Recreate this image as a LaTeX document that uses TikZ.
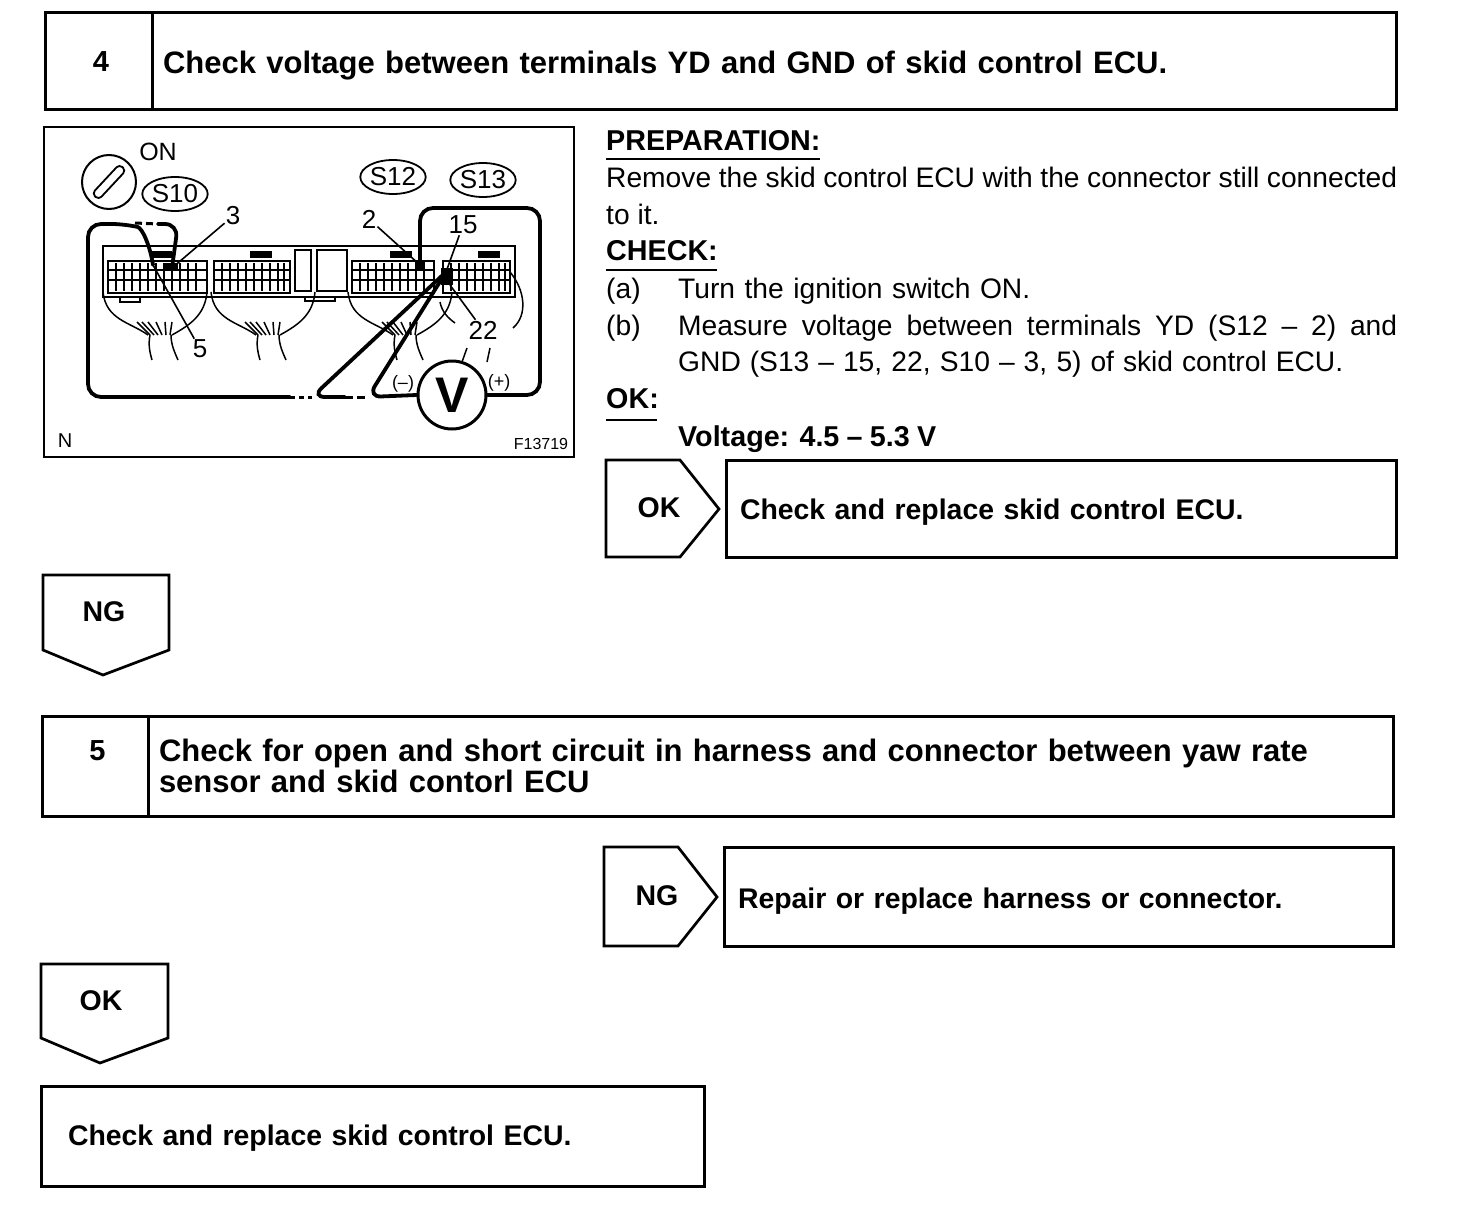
\documentclass[tikz,border=0pt]{standalone}
\usepackage{fontspec}
\setmainfont{Liberation Sans}
\usetikzlibrary{positioning,shapes.geometric}
\tikzset{
    numcell/.style={draw, line width=3pt, inner sep=0pt, outer sep=0pt, anchor=north west,
                    font=\fontsize{29}{31}\selectfont\bfseries, align=center},
    titlecell/.style={draw, line width=3pt, inner xsep=11pt, inner ysep=0pt, outer sep=0pt,
                    font=\fontsize{31}{31}\selectfont\bfseries, align=left},
    actionbox/.style={draw, line width=3pt, inner xsep=14pt, inner ysep=0pt, outer sep=0pt, anchor=north west,
                    font=\fontsize{28.4}{30}\selectfont\bfseries, align=left},
    tagline/.style={draw, line width=2.7pt, line join=miter},
    tagtext/.style={font=\fontsize{28.5}{30}\selectfont\bfseries},
    bodytext/.style={anchor=base west, inner sep=0pt, font=\fontsize{28.2}{30}\selectfont},
    bodyhead/.style={anchor=base west, inner sep=0pt, font=\fontsize{28.7}{30}\selectfont\bfseries},
    pinlabel/.style={inner sep=1pt, font=\fontsize{26}{28}\selectfont},
    connlabel/.style={draw, ellipse, line width=1.8pt, minimum width=62pt, minimum height=34pt, inner sep=0pt,
                    font=\fontsize{26}{28}\selectfont},
    testwire/.style={line width=3.8pt, rounded corners=13pt, line cap=round},
    leader/.style={line width=1.6pt},
    thinwire/.style={line width=1.5pt},
}
% wire bundle under one connector
\newcommand{\harness}[1]{
    \begin{scope}[xshift=#1pt]
        \draw[thinwire] (103,292) .. controls (106,320) and (130,322) .. (148,335);
        \draw[thinwire] (207,292) .. controls (205,315) and (190,325) .. (172,335);
        \draw[thinwire] (150,335) .. controls (148,345) and (150,353) .. (152,360);
        \draw[thinwire] (171,335) .. controls (171,345) and (175,353) .. (178,360);
        \foreach \dx/\topx in {0/137,5/142,10/148,15/156,20/165,25/172}
            \draw[thinwire] (150+\dx*0.8,335) -- (\topx,322);
    \end{scope}
}
% terminal grid of one connector
\newcommand{\termgrid}[3]{
    \draw[line width=2.4pt, fill=white] (#1,261) rectangle (#2,293);
    \foreach \gx in {#3}
        \draw[line width=2pt] (\gx,263) -- (\gx,291);
    \foreach \gy in {270,280}
        \draw[line width=2pt] (#1,\gy) -- (#2,\gy);
}
\begin{document}
\begin{tikzpicture}[x=1pt, y=-1pt]
\useasboundingbox (0,0) rectangle (1472,1220);
\fill[white] (0,0) rectangle (1472,1220);

% step 4
\node[numcell, minimum width=107pt, minimum height=97pt] (num4) at (45,13) {\hspace*{5pt}4};
\node[titlecell, minimum height=97pt, text width=1222pt, right=0pt of num4] (title4)
    {\rule{0pt}{31pt}Check voltage between terminals YD and GND of skid control ECU.};

% figure
\node[draw, line width=2.2pt, minimum width=530pt, minimum height=330pt, anchor=north west, inner sep=0pt, outer sep=0pt] (figframe) at (44,127) {};
\node[inner sep=0pt, font=\fontsize{25}{27}\selectfont] (onlabel) at (158,152) {ON};
\node[draw, circle, line width=2pt, minimum size=54pt, inner sep=0pt] (ignition) at (109,182) {};
\draw[line width=1.8pt, rounded corners=4pt, rotate around={47:(ignition)}]
    (ignition) ++(-20,-4.5) rectangle ++(40,9);
\node[connlabel] (s10) at (175,194) {S10};
\node[connlabel] (s12) at (393,177) {S12};
\node[connlabel] (s13) at (483,180) {S13};

% ECU housing and connectors
\draw[line width=1.6pt] (103,246) -- (515,246) -- (515,297) -- (103,297) -- cycle;
\draw[line width=1.6pt] (295,250) rectangle (311,291);
\draw[line width=1.6pt] (317,250) rectangle (347,291);
\draw[line width=1.6pt] (120,297) rectangle (140,302);
\draw[line width=1.6pt] (305,297) rectangle (335,301);
\termgrid{108}{207}{116,124,132,140,148,156,164,172,180,188,196}
\termgrid{214}{290}{222,230,238,246,254,262,270,278,284}
\termgrid{352}{434}{360,368,376,384,392,400,408,416,424}
\termgrid{443}{510}{451,459,467,475,483,491,499,505}
\foreach \capx in {150,250,390,478}
    \fill (\capx,251) rectangle (\capx+22,258);
\harness{0}
\harness{108}
\harness{245}
\draw[thinwire] (440,302) .. controls (442,312) and (448,318) .. (455,323);
\draw[thinwire] (510,272) .. controls (525,290) and (528,315) .. (513,328);
\draw[thinwire] (467,348) -- (462,362);
\draw[thinwire] (490,348) -- (487,362);

% pins
\coordinate (pin3) at (172,268);
\coordinate (pin5) at (153,265);
\coordinate (pin2) at (420,265);
\coordinate (pin15) at (446,272);
\coordinate (pin22) at (450,285);
\fill (163,263) rectangle (178,271);
\fill (415,261) rectangle (425,271);
\fill (441,268) rectangle (453,285);

\node[pinlabel] (lbl3) at (233,216) {3};
\node[pinlabel] (lbl5) at (200,349) {5};
\node[pinlabel] (lbl2) at (369,219) {2};
\node[pinlabel] (lbl15) at (463,225) {15};
\node[pinlabel] (lbl22) at (483,330) {22};
\draw[leader] (lbl3) -- (pin3);
\draw[leader] (lbl5) -- (pin5);
\draw[leader] (lbl2) -- (pin2);
\draw[leader] (lbl15) -- (pin15);
\draw[leader] (lbl22) -- (pin22);

% meter and test wires
\node[draw, circle, line width=3pt, minimum size=68pt, inner sep=0pt, fill=white,
      font=\fontsize{50}{52}\selectfont\bfseries] (vmeter) at (452,395) {V};
\node[inner sep=0pt, font=\fontsize{18}{20}\selectfont] (minus) at (403,384) {(–)};
\node[inner sep=0pt, font=\fontsize{18}{20}\selectfont] (plus) at (499,383) {(+)};
\coordinate (gapl) at (290,397);
\coordinate (gapr) at (312,397);
\draw[testwire] (vmeter.west) -- (368,397) -- (pin15);
\draw[testwire] (pin15) -- (312,397) -- (345,397);
\draw[line width=3pt, dash pattern=on 8pt off 4pt] (345,397) -- (368,397);
\draw[line width=3pt, dash pattern=on 5pt off 4pt] (gapl) -- (gapr);
\draw[testwire] (gapl) -- (88,397) -- (88,224) -- (125,224) .. controls (142,228) and (150,245) .. (pin5);
\draw[line width=3pt, dash pattern=on 7pt off 4pt] (135,223) -- (158,224);
\draw[testwire] (158,224) -- (178,224) -- (pin3);
\draw[testwire] (vmeter.east) -- (540,395) -- (540,208) -- (420,208) -- (pin2);
\node[inner sep=0pt, font=\fontsize{20}{22}\selectfont] (nlabel) at (65,441) {N};
\node[inner sep=0pt, font=\fontsize{16}{18}\selectfont] (figno) at (541,444) {F13719};

% instructions
\node[bodyhead] (prep) at (606,150) {PREPARATION:};
\draw[line width=2pt] (prep.base west) ++(0,9) -- ++(214,0);
\node[bodytext] (prepline1) at (606,187) {\makebox[791pt][s]{Remove the skid control ECU with the connector still connected}};
\node[bodytext] (prepline2) at (606,224) {to it.};
\node[bodyhead] (check) at (606,260) {CHECK:};
\draw[line width=2pt] (check.base west) ++(0,10) -- ++(111,0);
\node[bodytext] (itema) at (606,298) {(a)};
\node[bodytext] (itematext) at (678,298) {\makebox[352pt][s]{Turn the ignition switch ON.}};
\node[bodytext] (itemb) at (606,335) {(b)};
\node[bodytext] (itembtext) at (678,335) {\makebox[719pt][s]{Measure voltage between terminals YD (S12 – 2) and}};
\node[bodytext] (itembmore) at (678,371) {\makebox[665pt][s]{GND (S13 – 15, 22, S10 – 3, 5) of skid control ECU.}};
\node[bodyhead] (okhead) at (606,408) {OK:};
\draw[line width=2pt] (okhead.base west) ++(0,12) -- ++(51,0);
\node[bodyhead] (okvalue) at (678,446) {\makebox[258pt][s]{Voltage: 4.5 – 5.3 V}};

% OK branch of step 4
\draw[tagline] (606,460) -- (680,460) -- (719,509) -- (680,557) -- (606,557) -- cycle;
\node[tagtext] (oktag4) at (659,508) {OK};
\node[actionbox, minimum width=670pt, minimum height=97pt, text width=642pt] (okbox4) at (726,460)
    {\rule{0pt}{27pt}Check and replace skid control ECU.};

% NG down
\draw[tagline] (43,575) -- (169,575) -- (169,650) -- (103,675) -- (43,650) -- cycle;
\node[tagtext] (ngtag4) at (104,612) {NG};

% step 5
\node[numcell, minimum width=106pt, minimum height=100pt] (num5) at (42,716) {\hspace*{5pt}\raisebox{30pt}{5}};
\node[titlecell, minimum height=100pt, text width=1223pt, right=0pt of num5] (title5)
    {Check for open and short circuit in harness and connector between yaw rate\\sensor and skid contorl ECU};

% NG branch of step 5
\draw[tagline] (604,847) -- (678,847) -- (717,897) -- (678,946) -- (604,946) -- cycle;
\node[tagtext] (ngtag5) at (657,896) {NG};
\node[actionbox, minimum width=669pt, minimum height=99pt, text width=641pt] (ngbox5) at (724,847)
    {\rule{0pt}{29pt}Repair or replace harness or connector.};

% OK down
\draw[tagline] (41,964) -- (168,964) -- (168,1038) -- (100,1063) -- (41,1038) -- cycle;
\node[tagtext] (oktag5) at (101,1001) {OK};
\node[actionbox, minimum width=663pt, minimum height=100pt, text width=609pt, inner xsep=27pt] (okbox5) at (41,1086)
    {\rule{0pt}{25pt}Check and replace skid control ECU.};
\end{tikzpicture}
\end{document}
